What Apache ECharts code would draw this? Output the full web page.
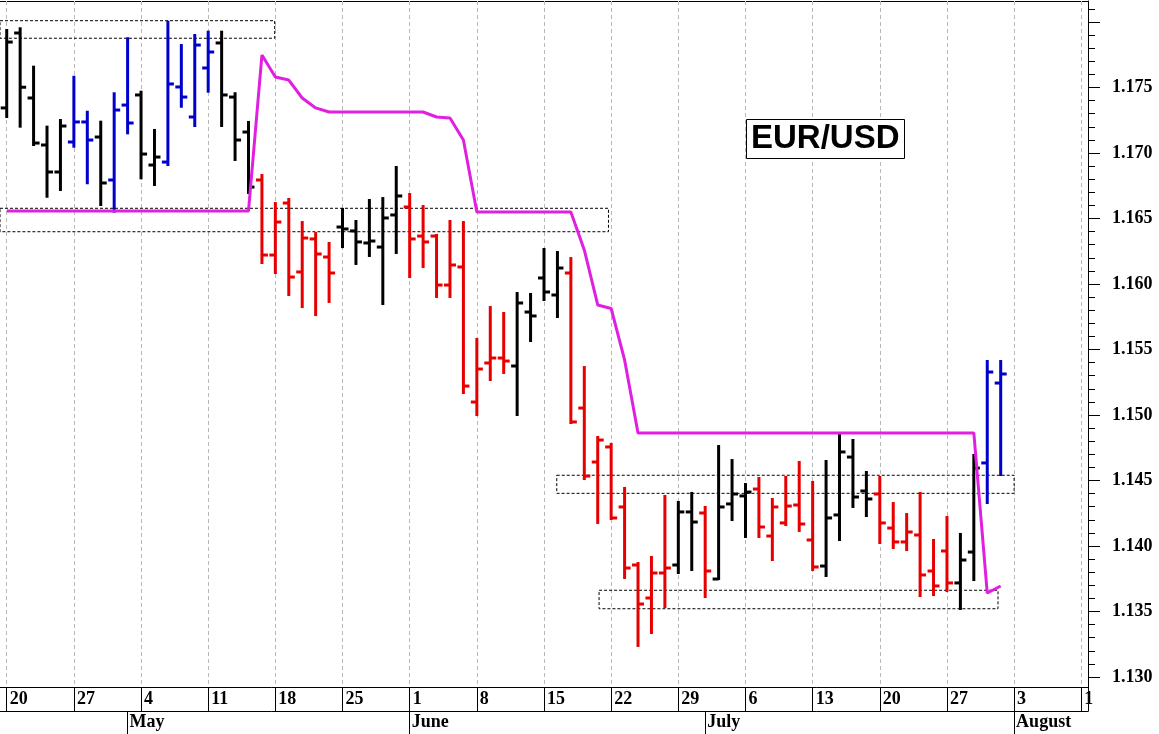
<!DOCTYPE html>
<html>
<head>
<meta charset="utf-8">
<script src="https://cdn.jsdelivr.net/npm/echarts@6/dist/echarts.min.js"></script>
<style>
html,body{margin:0;padding:0;background:#fff;}
#chart{width:1159px;height:734px;}
</style>
</head>
<body>
<div id="chart"></div>
<script>
// Trading days (MM-DD)
const dates = [
  '04-20','04-21','04-22','04-23','04-24','04-27','04-28','04-29','04-30',
  '05-01','05-04','05-05','05-06','05-07','05-08','05-11','05-12','05-13','05-14','05-15',
  '05-18','05-19','05-20','05-21','05-22','05-25','05-26','05-27','05-28','05-29',
  '06-01','06-02','06-03','06-04','06-05','06-08','06-09','06-10','06-11','06-12',
  '06-15','06-16','06-17','06-18','06-19','06-22','06-23','06-24','06-25','06-26',
  '06-29','06-30',
  '07-01','07-02','07-03','07-06','07-07','07-08','07-09','07-10','07-13','07-14',
  '07-15','07-16','07-17','07-20','07-21','07-22','07-23','07-24','07-27','07-28',
  '07-29','07-30','07-31',
  '08-03','08-04','08-05','08-06','08-07','08-10'
];

const opens = [
  1.17344, 1.17916, 1.17420, 1.17061, 1.16855,
  1.17084, 1.17237, 1.17122, 1.16794, 1.17366,
  1.17443, 1.16908, 1.16931, 1.17504, 1.17275,
  1.17649, 1.17840, 1.17427, 1.17160, 1.16794,
  1.16221, 1.16618, 1.16092, 1.16344, 1.16206,
  1.16435, 1.16405, 1.16313, 1.16282, 1.16527,
  1.16588, 1.16366, 1.16366, 1.15992, 1.16130,
  1.15099, 1.15397, 1.15435, 1.15374, 1.15786,
  1.16046, 1.15916, 1.16084, 1.15053, 1.14641,
  1.14756, 1.14298, 1.13855, 1.13603, 1.13794,
  1.13855, 1.14260, 1.14252, 1.13748, 1.14321,
  1.14382, 1.14435, 1.14076, 1.14176, 1.14313,
  1.14046, 1.13847, 1.14237, 1.14679, 1.14420,
  1.14397, 1.14137, 1.14031, 1.14084, 1.13809,
  1.13962, 1.13718, 1.13954, 1.14634, 1.15244
];
const highs = [
  1.17939, 1.17952, 1.17659, 1.17201, 1.17252,
  1.17582, 1.17315, 1.17239, 1.17456, 1.17876,
  1.17468, 1.17176, 1.18002, 1.17824, 1.17901,
  1.17926, 1.17926, 1.17456, 1.17237, 1.16832,
  1.16618, 1.16649, 1.16473, 1.16389, 1.16313,
  1.16573, 1.16481, 1.16641, 1.16656, 1.16893,
  1.16687, 1.16595, 1.16374, 1.16481, 1.16473,
  1.15580, 1.15824, 1.15779, 1.15931, 1.15924,
  1.16267, 1.16244, 1.16198, 1.15366, 1.14832,
  1.14779, 1.14443, 1.13870, 1.13916, 1.14382,
  1.14336, 1.14405, 1.14298, 1.14763, 1.14656,
  1.14473, 1.14519, 1.14359, 1.14527, 1.14641,
  1.14489, 1.14649, 1.14847, 1.14809, 1.14565,
  1.14527, 1.14328, 1.14244, 1.14405, 1.14046,
  1.14221, 1.14092, 1.14695, 1.15412, 1.15412
];
const lows = [
  1.17275, 1.17201, 1.17061, 1.16666, 1.16718,
  1.17048, 1.16769, 1.16603, 1.16552, 1.17150,
  1.16807, 1.16756, 1.16908, 1.17353, 1.17206,
  1.17468, 1.17206, 1.16947, 1.16695, 1.16160,
  1.16084, 1.15916, 1.15824, 1.15763, 1.15863,
  1.16282, 1.16153, 1.16214, 1.15847, 1.16237,
  1.16053, 1.16130, 1.15901, 1.15901, 1.15168,
  1.15000, 1.15267, 1.15321, 1.15000, 1.15565,
  1.15878, 1.15748, 1.14939, 1.14511, 1.14176,
  1.14206, 1.13756, 1.13237, 1.13336, 1.13534,
  1.13794, 1.13817, 1.13611, 1.13748, 1.14198,
  1.14069, 1.14069, 1.13893, 1.14160, 1.14115,
  1.13817, 1.13771, 1.14046, 1.14298, 1.14229,
  1.14023, 1.13985, 1.13969, 1.13618, 1.13626,
  1.13656, 1.13519, 1.13740, 1.14328, 1.14542
];
const closes = [
  1.17847, 1.17502, 1.17076, 1.16855, 1.17206,
  1.17237, 1.17099, 1.16771, 1.17328, 1.17229,
  1.16992, 1.16969, 1.17527, 1.17427, 1.17824,
  1.17771, 1.17443, 1.17099, 1.16740, 1.16221,
  1.16473, 1.16053, 1.16351, 1.16229, 1.16084,
  1.16420, 1.16321, 1.16328, 1.16504, 1.16672,
  1.16344, 1.16321, 1.15992, 1.16145, 1.15221,
  1.15351, 1.15435, 1.15412, 1.15855, 1.15756,
  1.15939, 1.16122, 1.14947, 1.14534, 1.14809,
  1.14214, 1.13832, 1.13557, 1.13794, 1.13832,
  1.14260, 1.14183, 1.13809, 1.14298, 1.14397,
  1.14412, 1.14145, 1.14298, 1.14305, 1.14168,
  1.13840, 1.14214, 1.14718, 1.14374, 1.14359,
  1.14176, 1.14031, 1.14107, 1.13779, 1.13695,
  1.13718, 1.13893, 1.14595, 1.15328, 1.15313
];
// bar colour class: k = neutral, b = bullish, r = bearish
const barColors = [
  'k','k','k','k','k','b','b','k','b','b',
  'k','k','b','b','b','b','k','k','k','r',
  'r','r','r','r','r','k','k','k','k','k',
  'r','r','r','r','r','r','r','r','k','k',
  'k','k','r','r','r','r','r','r','r','r',
  'k','k','r','k','k','k','r','r','r','r',
  'r','k','k','k','k','r','r','r','r','r',
  'r','k','k','b','b'
];
// trailing stop line
const stopLine = [
  1.16557,1.16557,1.16557,1.16557,1.16557,1.16557,1.16557,1.16557,1.16557,1.16557,
  1.16557,1.16557,1.16557,1.16557,1.16557,1.16557,1.16557,1.16557,1.16557,
  1.17748,1.17580,1.17557,1.17420,1.17344,
  1.17313,1.17313,1.17313,1.17313,1.17313,1.17313,1.17313,1.17313,
  1.17275,1.17267,1.17099,
  1.16550,1.16550,1.16550,1.16550,1.16550,1.16550,1.16550,1.16550,
  1.16260,1.15840,1.15813,1.15420,
  1.14863,1.14863,1.14863,1.14863,1.14863,1.14863,1.14863,1.14863,1.14863,1.14863,
  1.14863,1.14863,1.14863,1.14863,1.14863,1.14863,1.14863,1.14863,1.14863,1.14863,
  1.14863,1.14863,1.14863,1.14863,1.14863,1.14863,
  1.13641,1.13695
];
// dashed zones (start/end in trading-day index units, low/high in price)
const boxStart = [-0.5, -0.5, 40.95, 44.1];
const boxEnd   = [19.95, 44.8, 75.0, 73.8];
const boxLow   = [1.17876, 1.16399, 1.14402, 1.13521];
const boxHigh  = [1.18010, 1.16578, 1.14540, 1.13662];

const yTickLabels = ['1.130','1.135','1.140','1.145','1.150','1.155','1.160','1.165','1.170','1.175'];
const monthNames = {'04':'April','05':'May','06':'June','07':'July','08':'August'};
const chartTitle = 'EUR/USD';

const colorMap = {k:'#000000', b:'#0000cc', r:'#e80000'};
const serif = '"Liberation Serif", "Times New Roman", serif';

function isMonday(i){ return i % 5 === 0; }
function isMonthStart(i){ return i > 0 && dates[i].slice(0,2) !== dates[i-1].slice(0,2); }

const barData = opens.map((o,i) => [i, o, highs[i], lows[i], closes[i]]);
const boxData = boxStart.map((s,k) => [Math.max(0, Math.round(s)), boxLow[k], boxHigh[k], s, boxEnd[k]]);

const chart = echarts.init(document.getElementById('chart'), null, {renderer:'canvas'});
chart.setOption({
  animation: false,
  backgroundColor: '#ffffff',
  title: {
    text: chartTitle, left: 746, top: 119,
    padding: [3,5,3,5], borderColor: '#000', borderWidth: 1, backgroundColor: '#fff',
    textStyle: {fontFamily: '"Liberation Sans", Arial, sans-serif', fontWeight: 'bold', fontSize: 33, lineHeight: 34, color: '#000'}
  },
  grid: [
    {left: 0, right: 71, top: -43.5, bottom: 57, containLabel: false, outerBoundsMode: 'none'},
    {left: 0, right: 71, top: 1, bottom: 23, containLabel: false, outerBoundsMode: 'none'}
  ],
  xAxis: [
    {
      gridIndex: 0, type: 'category', data: dates, boundaryGap: true, position: 'bottom', offset: 10, z: 5,
      axisLine: {show: true, onZero: false, lineStyle: {color: '#000', width: 1}},
      axisTick: {show: true, alignWithLabel: true, interval: isMonday, length: 24, lineStyle: {color: '#000', width: 1}},
      axisLabel: {
        show: true, interval: isMonday, align: 'left', margin: 3, padding: [0,0,0,3],
        fontFamily: serif, fontWeight: 'bold', fontSize: 18, color: '#000',
        formatter: function(v, idx){
          const d = String(parseInt(v.slice(3), 10));
          return idx === dates.length - 1 ? d.slice(0,1) : d; // last label is cut by the frame
        }
      },
      splitLine: {show: false}
    },
    {
      gridIndex: 0, type: 'category', data: dates, boundaryGap: true, position: 'bottom', offset: 34, z: 5,
      axisLine: {show: true, onZero: false, lineStyle: {color: '#000', width: 1}},
      axisTick: {show: true, alignWithLabel: true, interval: isMonthStart, length: 23, lineStyle: {color: '#000', width: 1}},
      axisLabel: {
        show: true, interval: isMonthStart, align: 'left', margin: 2, padding: [0,0,0,2],
        fontFamily: serif, fontWeight: 'bold', fontSize: 18, color: '#000',
        formatter: function(v){ return monthNames[v.slice(0,2)]; }
      },
      splitLine: {show: false}
    },
    {
      gridIndex: 1, type: 'category', data: dates, boundaryGap: true, position: 'top', z: 0,
      axisLine: {show: true, onZero: false, lineStyle: {color: '#000', width: 1}},
      axisTick: {show: true, inside: true, alignWithLabel: true, interval: isMonday, length: 710,
                 lineStyle: {color: '#b8b8b8', width: 1, type: [4,3]}},
      axisLabel: {show: false},
      splitLine: {show: false}
    }
  ],
  yAxis: [
    {
      gridIndex: 0, type: 'value', position: 'right', min: 1.130, max: 1.185, interval: 0.005, scale: true,
      axisLine: {show: false},
      axisTick: {show: true, length: 12, lineStyle: {color: '#000', width: 1}},
      minorTick: {show: true, splitNumber: 5, length: 7, lineStyle: {color: '#000', width: 1}},
      splitLine: {show: false}, minorSplitLine: {show: false},
      axisLabel: {
        margin: 24, fontFamily: serif, fontWeight: 'bold', fontSize: 18, color: '#000',
        formatter: function(v){ const s = v.toFixed(3); return yTickLabels.indexOf(s) >= 0 ? s : ''; }
      }
    },
    {
      gridIndex: 1, type: 'value', position: 'right', min: 0, max: 1,
      axisLine: {show: true, onZero: false, lineStyle: {color: '#000', width: 1}},
      axisTick: {show: false}, axisLabel: {show: false}, splitLine: {show: false}
    }
  ],
  series: [
    {
      type: 'custom', name: 'zones', xAxisIndex: 0, yAxisIndex: 0, z: 1,
      data: boxData, encode: {x: 0, y: [1, 2]},
      renderItem: function(params, api){
        const band = api.size([1, 0])[0];
        function xAt(f){ const i = Math.floor(f); return api.coord([i, api.value(1)])[0] + (f - i) * band; }
        const x0 = xAt(api.value(3)), x1 = xAt(api.value(4));
        const yLo = api.coord([0, api.value(1)])[1], yHi = api.coord([0, api.value(2)])[1];
        return {
          type: 'rect',
          shape: {x: x0, y: yHi, width: x1 - x0, height: yLo - yHi},
          style: {fill: 'none', stroke: '#000', lineWidth: 1, lineDash: [3, 2]}
        };
      }
    },
    {
      type: 'custom', name: 'EUR/USD', xAxisIndex: 0, yAxisIndex: 0, z: 2,
      data: barData, encode: {x: 0, y: [1, 2, 3, 4]},
      renderItem: function(params, api){
        const i = api.value(0);
        const op = api.coord([i, api.value(1)]);
        const hi = api.coord([i, api.value(2)]);
        const lo = api.coord([i, api.value(3)]);
        const cl = api.coord([i, api.value(4)]);
        const x = hi[0], w = 6;
        const c = colorMap[barColors[params.dataIndex]];
        const st = {stroke: c, lineWidth: 3, lineCap: 'butt'};
        return {
          type: 'group',
          children: [
            {type: 'line', shape: {x1: x, y1: hi[1] - 1, x2: x, y2: lo[1] + 1}, style: st},
            {type: 'line', shape: {x1: x - w, y1: op[1], x2: x, y2: op[1]}, style: st},
            {type: 'line', shape: {x1: x, y1: cl[1], x2: x + w, y2: cl[1]}, style: st}
          ]
        };
      }
    },
    {
      type: 'line', name: 'stop', xAxisIndex: 0, yAxisIndex: 0, z: 3,
      data: stopLine, showSymbol: false, symbol: 'none',
      lineStyle: {color: '#e020e0', width: 3}
    }
  ]
});
</script>
</body>
</html>
